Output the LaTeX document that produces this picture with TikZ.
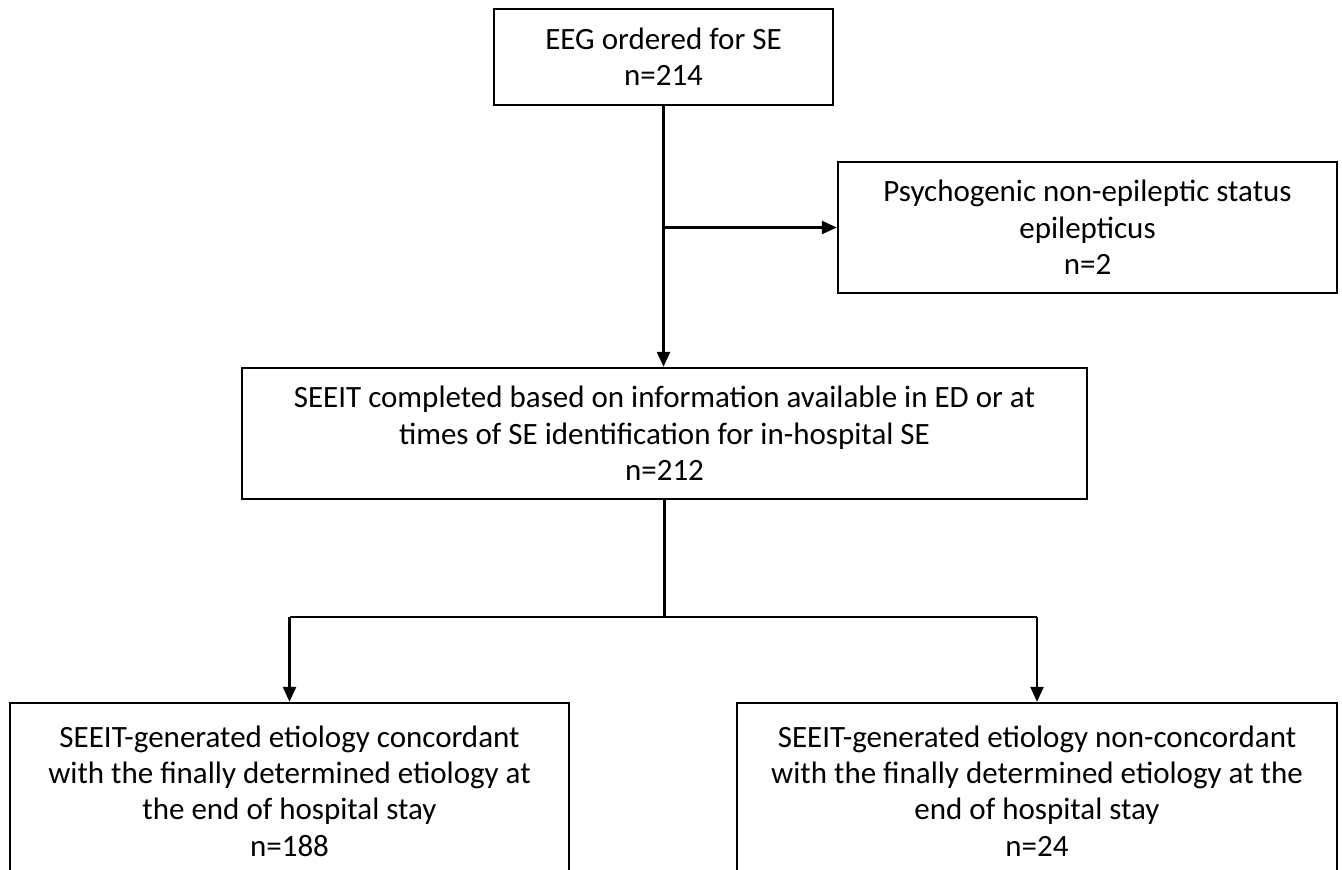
\documentclass[tikz,border=0pt]{standalone}
\usepackage{fontspec}
\setmainfont{Carlito}
\usetikzlibrary{arrows.meta}

\begin{document}
\begin{tikzpicture}[x=0.5pt, y=-0.5pt,
    box/.style={rectangle, draw, line width=1.2pt, inner sep=0pt, align=center,
        font=\fontsize{15.5}{18.2}\selectfont},
    link/.style={line width=1.2pt},
    arrow/.style={line width=1.2pt, -{Triangle[length=7.5pt, width=6.5pt]}}]
    \clip (0, 0) rectangle (1342, 869);

    % Draw boxes
    \node (eeg) at (663.5, 57) [box, minimum width=169.5pt, minimum height=48pt]
        {EEG ordered for SE\\n=214};
    \node (pnes) at (1087.5, 227.5) [box, minimum width=249.5pt, minimum height=65.5pt]
        {Psychogenic non-epileptic status\\epilepticus\\n=2};
    \node (seeit) at (664.5, 433.5) [box, minimum width=422.5pt, minimum height=65.5pt]
        {SEEIT completed based on information available in ED or at\\times of SE identification for in-hospital SE\\n=212};
    \node (conc) at (289.5, 791) [box, minimum width=279.5pt, minimum height=88pt]
        {SEEIT-generated etiology concordant\\with the finally determined etiology at\\the end of hospital stay\\n=188};
    \node (nonconc) at (1037, 791) [box, minimum width=300pt, minimum height=88pt]
        {SEEIT-generated etiology non-concordant\\with the finally determined etiology at the\\end of hospital stay\\n=24};

    % Draw connectors
    \draw[arrow] (eeg.south) -- (eeg.south |- seeit.north);
    \draw[arrow] (eeg.south |- pnes.west) -- (pnes.west); % exclusion branch
    \coordinate (split) at (664.5, 617);
    \draw[link] (seeit.south) -- (split);
    \draw[link] (conc.north |- split) -- (nonconc.north |- split);
    \draw[arrow] (conc.north |- split) -- (conc.north);
    \draw[arrow] (nonconc.north |- split) -- (nonconc.north);
\end{tikzpicture}
\end{document}
